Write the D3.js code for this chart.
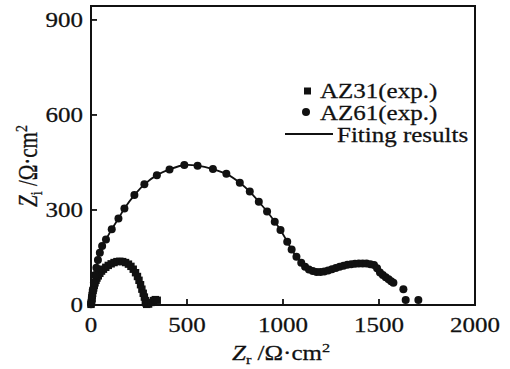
<!DOCTYPE html>
<html>
<head>
<meta charset="utf-8">
<script src="https://cdn.jsdelivr.net/npm/d3@7"></script>
<style>
	html, body { margin: 0; padding: 0; background: #fff; }
	svg { display: block; }
	text { font-family: "Liberation Serif", "Times New Roman", serif; fill: #111; stroke: #111; stroke-width: 0.25px; }
</style>
</head>
<body>
<div id="chart"></div>
<script>
// Nyquist data (Zr, Zi) in ohm*cm2
const az31 = [
	[0, 2], [2, 8], [3, 15], [5, 22], [6, 30], [8, 38], [11, 46], [14, 54], [17, 62],
	[21, 70], [26, 78], [31, 85], [38, 92], [46, 100], [55, 107], [65, 113], [77, 119],
	[90, 125], [105, 130], [120, 134], [135, 137], [150, 138], [165, 137], [180, 134],
	[195, 129], [208, 122], [220, 113], [232, 102], [242, 90], [250, 78], [258, 64],
	[265, 50], [272, 37], [278, 25], [283, 14], [287, 6], [290, 2], [300, 3], [312, 8],
	[325, 14], [335, 17], [345, 15]
];
const az61 = [
	[0, 2], [3, 12], [6, 28], [10, 48], [15, 70], [21, 95], [28, 118], [36, 142], [46, 165],
	[58, 186], [78, 207], [108, 239], [143, 273], [174, 305], [226, 347], [278, 381],
	[343, 410], [409, 428], [486, 442], [555, 440], [635, 429], [705, 414], [775, 386],
	[827, 358], [874, 326], [917, 295], [957, 263], [987, 237], [1022, 200], [1045, 175],
	[1070, 152], [1095, 133], [1115, 121], [1135, 112], [1155, 107], [1175, 104],
	[1195, 104], [1215, 106], [1235, 109], [1255, 113], [1275, 117], [1295, 121],
	[1315, 124], [1335, 127], [1355, 129], [1375, 130], [1395, 131], [1415, 131],
	[1435, 131], [1455, 129], [1474, 126], [1490, 116], [1505, 103], [1520, 95],
	[1535, 88], [1550, 81], [1563, 75], [1575, 70], [1627, 50], [1639, 16], [1705, 16]
];
// fitted curves follow the measured points up to these indices
const fitEnd31 = 36;
const fitEnd61 = 58;

const xTicks = [0, 500, 1000, 1500, 2000];
const yTicks = [0, 300, 600, 900];
const legendItems = ['AZ31(exp.)', 'AZ61(exp.)', 'Fiting results'];

const width = 510, height = 369;
const sx = 1.25; // the figure is stretched sideways

const svg = d3.select('#chart').append('svg')
	.attr('width', width)
	.attr('height', height);

const x = d3.scaleLinear().domain([0, 2000]).range([91, 475]);
const y = d3.scaleLinear().domain([0, 944]).range([305, 6]);

function label(g, px, py, str, anchor) {
	return g.append('text')
		.attr('transform', 'translate(' + px + ',' + py + ') scale(' + sx + ',1)')
		.attr('text-anchor', anchor)
		.style('font-size', '20px')
		.text(str);
}

// frame
svg.append('rect')
	.attr('x', x(0)).attr('y', y(944))
	.attr('width', x(2000) - x(0)).attr('height', y(0) - y(944))
	.attr('fill', 'none').attr('stroke', '#111').attr('stroke-width', 2);

// inward ticks + labels
const axes = svg.append('g');
xTicks.forEach(t => {
	if (t > 0 && t < 2000)
		axes.append('line')
			.attr('x1', x(t)).attr('x2', x(t))
			.attr('y1', y(0)).attr('y2', y(0) - 6)
			.attr('stroke', '#111').attr('stroke-width', 1.8);
	label(axes, x(t), 332, d3.format('d')(t), 'middle');
});
yTicks.forEach(t => {
	if (t > 0)
		axes.append('line')
			.attr('x1', x(0)).attr('x2', x(0) + 6)
			.attr('y1', y(t)).attr('y2', y(t))
			.attr('stroke', '#111').attr('stroke-width', 1.8);
	label(axes, 83, y(t) + 7, d3.format('d')(t), 'end');
});

// axis titles
const xt = svg.append('text')
	.attr('transform', 'translate(281,360) scale(' + sx + ',1)')
	.attr('text-anchor', 'middle')
	.style('font-size', '20px');
xt.append('tspan').style('font-style', 'italic').text('Z');
xt.append('tspan').attr('dy', 4).style('font-size', '13px').text('r');
xt.append('tspan').attr('dy', -4).text(' /Ω·cm');
xt.append('tspan').attr('dy', -8).style('font-size', '13px').text('2');

const yt = svg.append('text')
	.attr('transform', 'translate(37,166) scale(' + sx + ',1) rotate(-90)')
	.attr('text-anchor', 'middle')
	.style('font-size', '21px');
yt.append('tspan').style('font-style', 'italic').text('Z');
yt.append('tspan').attr('dy', 4).style('font-size', '14px').text('i');
yt.append('tspan').attr('dy', -4).text(' /Ω·cm');
yt.append('tspan').attr('dy', -8).style('font-size', '14px').text('2');

// fitted lines
const line = d3.line()
	.x(d => x(d[0]))
	.y(d => y(d[1]))
	.curve(d3.curveCatmullRom);
svg.append('path')
	.datum(az61.slice(0, fitEnd61))
	.attr('d', line)
	.attr('fill', 'none').attr('stroke', '#111').attr('stroke-width', 1.8);
svg.append('path')
	.datum(az31.slice(0, fitEnd31))
	.attr('d', line)
	.attr('fill', 'none').attr('stroke', '#111').attr('stroke-width', 1.8);

// measured points
svg.append('g').selectAll('rect')
	.data(az31)
	.enter()
	.append('rect')
		.attr('x', d => x(d[0]) - 3.7)
		.attr('y', d => y(d[1]) - 3.7)
		.attr('width', 7.4).attr('height', 7.4)
		.attr('fill', '#111');
svg.append('g').selectAll('circle')
	.data(az61)
	.enter()
	.append('circle')
		.attr('cx', d => x(d[0]))
		.attr('cy', d => y(d[1]))
		.attr('r', 4)
		.attr('fill', '#111');

// legend
const lg = svg.append('g');
lg.append('rect').attr('x', 304).attr('y', 87.5).attr('width', 7).attr('height', 7).attr('fill', '#111');
label(lg, 320, 98, legendItems[0], 'start');
lg.append('circle').attr('cx', 306).attr('cy', 112).attr('r', 4).attr('fill', '#111');
label(lg, 320, 120, legendItems[1], 'start');
lg.append('line').attr('x1', 285).attr('x2', 333).attr('y1', 134).attr('y2', 134)
	.attr('stroke', '#111').attr('stroke-width', 1.8);
label(lg, 337, 142, legendItems[2], 'start');
</script>
</body>
</html>
